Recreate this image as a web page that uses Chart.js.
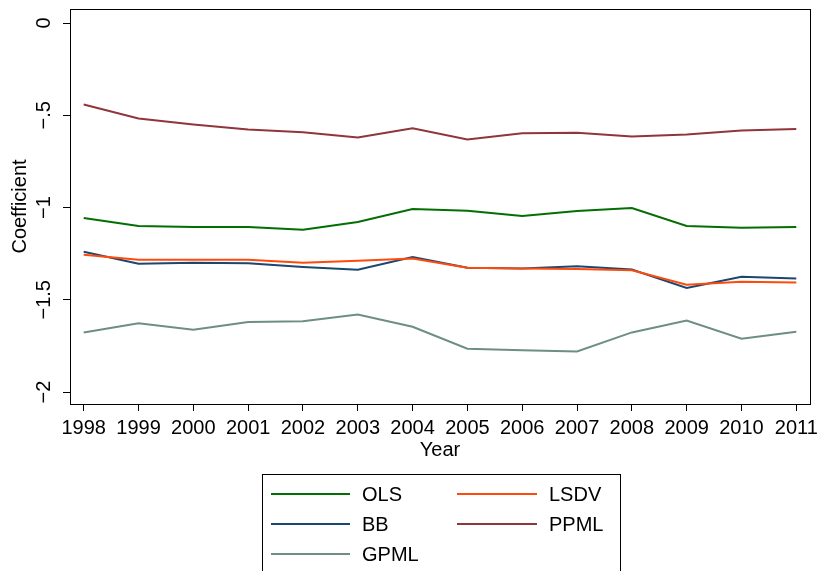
<!DOCTYPE html>
<html>
<head>
<meta charset="utf-8">
<script src="https://cdn.jsdelivr.net/npm/chart.js@4"></script>
<style>
  html, body { margin: 0; padding: 0; background: #fff; }
  #wrap { width: 821px; height: 571px; position: relative; }
</style>
</head>
<body>
<div id="wrap"><canvas id="coefChart" width="821" height="571"></canvas></div>
<script>
var years = [1998, 1999, 2000, 2001, 2002, 2003, 2004, 2005, 2006, 2007, 2008, 2009, 2010, 2011];
var ols  = [-1.057, -1.100, -1.105, -1.105, -1.121, -1.078, -1.008, -1.017, -1.046, -1.019, -1.003, -1.100, -1.110, -1.105];
var lsdv = [-1.256, -1.283, -1.283, -1.283, -1.300, -1.288, -1.276, -1.326, -1.330, -1.333, -1.340, -1.418, -1.402, -1.407];
var bb   = [-1.240, -1.305, -1.300, -1.302, -1.322, -1.337, -1.268, -1.326, -1.330, -1.318, -1.336, -1.436, -1.375, -1.385];
var ppml = [-0.442, -0.517, -0.550, -0.577, -0.592, -0.620, -0.571, -0.631, -0.598, -0.595, -0.615, -0.604, -0.582, -0.574];
var gpml = [-1.677, -1.628, -1.662, -1.620, -1.617, -1.580, -1.646, -1.765, -1.774, -1.780, -1.677, -1.613, -1.711, -1.673];
var yTickValues = [0, -0.5, -1, -1.5, -2];
var yTickLabels = ['0', '\u2212.5', '\u22121', '\u22121.5', '\u22122'];

var seriesNames = ['OLS', 'LSDV', 'BB', 'PPML', 'GPML'];
var seriesData = [ols, lsdv, bb, ppml, gpml];
var seriesColors = ['#036e03', '#ff4a0d', '#1a476f', '#90353b', '#6e8e84'];

var FONT = '"Liberation Sans", Arial, Helvetica, sans-serif';

function toPoints(arr) {
  return arr.map(function(v, i) { return { x: years[i], y: v }; });
}

var datasets = seriesNames.map(function(name, i) {
  return {
    label: name,
    data: toPoints(seriesData[i]),
    borderColor: seriesColors[i],
    backgroundColor: seriesColors[i],
    borderWidth: 2,
    pointRadius: 0,
    tension: 0,
    fill: false
  };
});

// frame around plot + rotated y tick labels + boxed two-column legend
const stataBits = {
  id: 'stataBits',
  afterDatasetsDraw(chart) {
    const ctx = chart.ctx;
    const a = chart.chartArea;
    ctx.save();
    ctx.strokeStyle = '#000';
    ctx.lineWidth = 1;
    ctx.strokeRect(a.left + 0.5, a.top + 0.5, a.right - a.left, a.bottom - a.top);
    ctx.restore();
  },
  afterDraw(chart) {
    const ctx = chart.ctx;
    const ys = chart.scales.y;
    ctx.save();
    ctx.fillStyle = '#000';
    ctx.font = '20px ' + FONT;
    ctx.textAlign = 'center';
    ctx.textBaseline = 'middle';
    yTickValues.forEach(function(v, i) {
      ctx.save();
      ctx.translate(44, ys.getPixelForValue(v));
      ctx.rotate(-Math.PI / 2);
      ctx.fillText(yTickLabels[i], 0, 0);
      ctx.restore();
    });

    // legend
    ctx.strokeStyle = '#000';
    ctx.lineWidth = 1;
    ctx.strokeRect(262.5, 474.5, 358, 110);
    ctx.textAlign = 'left';
    const cols = [{ l: 271, r: 350, t: 362 }, { l: 457, r: 537, t: 549 }];
    const rows = [494, 524, 554];
    chart.data.datasets.forEach(function(ds, i) {
      const c = cols[i % 2];
      const y = rows[Math.floor(i / 2)];
      ctx.strokeStyle = ds.borderColor;
      ctx.lineWidth = 2;
      ctx.beginPath();
      ctx.moveTo(c.l, y);
      ctx.lineTo(c.r, y);
      ctx.stroke();
      ctx.fillStyle = '#000';
      ctx.fillText(ds.label, c.t, y + 1);
    });
    ctx.restore();
  }
};

const coefChart = new Chart(document.getElementById('coefChart'), {
  type: 'line',
  data: { datasets: datasets },
  plugins: [stataBits],
  options: {
    responsive: false,
    animation: false,
    layout: { padding: { left: 0, right: 11, top: 9, bottom: 105 } },
    plugins: {
      legend: { display: false },
      tooltip: { enabled: false }
    },
    scales: {
      x: {
        type: 'linear',
        min: 1997.75,
        max: 2011.25,
        afterBuildTicks: function(s) { s.ticks = years.map(function(v) { return { value: v }; }); },
        afterFit: function(s) { s.height = 62; s.paddingLeft = 0; s.paddingRight = 0; },
        grid: { display: true, drawOnChartArea: false, drawTicks: true, tickLength: 7, color: '#000' },
        border: { display: false },
        ticks: {
          color: '#000',
          font: { family: FONT, size: 20 },
          padding: 5,
          maxRotation: 0,
          autoSkip: false,
          callback: function(v) { return String(v); }
        },
        title: { display: true, text: 'Year', color: '#000', font: { family: FONT, size: 20 }, padding: { top: 0, bottom: 4 } }
      },
      y: {
        type: 'linear',
        min: -2.065,
        max: 0.076,
        afterBuildTicks: function(s) { s.ticks = yTickValues.map(function(v) { return { value: v }; }); },
        afterFit: function(s) { s.width = 70; s.paddingTop = 0; s.paddingBottom = 0; },
        grid: { display: true, drawOnChartArea: false, drawTicks: true, tickLength: 7, color: '#000' },
        border: { display: false },
        ticks: { display: false },
        title: { display: true, text: 'Coefficient', color: '#000', font: { family: FONT, size: 20 }, padding: { top: 8, bottom: 0 } }
      }
    }
  }
});
</script>
</body>
</html>
